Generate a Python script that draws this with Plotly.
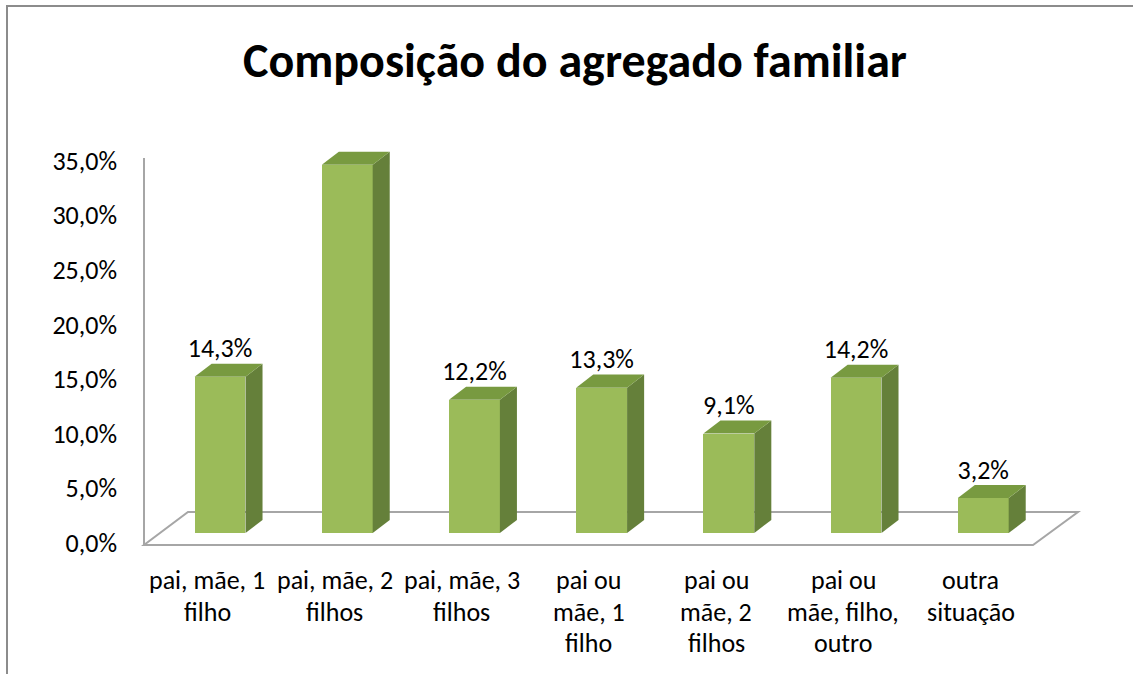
import plotly.graph_objects as go

# dados do gráfico
categorias = ["pai, mãe, 1 filho", "pai, mãe, 2 filhos", "pai, mãe, 3 filhos",
              "pai ou mãe, 1 filho", "pai ou mãe, 2 filhos", "pai ou mãe, filho, outro",
              "outra situação"]
rotulos = [["pai, mãe, 1", "filho"], ["pai, mãe, 2", "filhos"], ["pai, mãe, 3", "filhos"],
           ["pai ou", "mãe, 1", "filho"], ["pai ou", "mãe, 2", "filhos"],
           ["pai ou", "mãe, filho,", "outro"], ["outra", "situação"]]
valores = [14.3, 33.7, 12.2, 13.3, 9.1, 14.2, 3.2]
ticks_y = [0, 5, 10, 15, 20, 25, 30, 35]

FONT = "Carlito, Calibri, Lato, sans-serif"
FRENTE = "#9bbb59"
LADO = "#65803a"
TOPO = "#789a40"

W, H = 1133, 674
ML, MR, MT, MB = 145, 55, 150, 114
PW, PH = W - ML - MR, H - MT - MB

def px_x(p):
    return (p - ML) / PW

def px_y(p):
    return (H - MB - p) / PH

larg = 0.40      # largura da face frontal
dx = 0.134       # profundidade em x
dy = 1.19        # profundidade em y (%)

xs = list(range(len(valores)))
fig = go.Figure()

# faces laterais e superiores (efeito 3D)
for i, v in zip(xs, valores):
    xr = i + larg / 2
    xl = i - larg / 2
    fig.add_trace(go.Scatter(
        x=[xr, xr + dx, xr + dx, xr, xr], y=[0, dy, v + dy, v, 0],
        mode="lines", fill="toself", fillcolor=LADO, line=dict(width=0),
        hoverinfo="skip", showlegend=False))
    fig.add_trace(go.Scatter(
        x=[xl, xr, xr + dx, xl + dx, xl], y=[v, v, v + dy, v + dy, v],
        mode="lines", fill="toself", fillcolor=TOPO, line=dict(width=0),
        hoverinfo="skip", showlegend=False))

fig.add_trace(go.Bar(x=xs, y=valores, width=larg, marker=dict(color=FRENTE, line=dict(width=0)),
                     showlegend=False))

# rótulos de dados
fig.add_trace(go.Scatter(
    x=xs, y=[v + dy for v in valores], mode="text",
    text=[f"{v:.1f}%".replace(".", ",") for v in valores],
    textposition="top center", textfont=dict(family=FONT, size=26, color="#000000"),
    showlegend=False, hoverinfo="skip"))

# eixo auxiliar só para os rótulos do eixo y
fig.add_trace(go.Scatter(x=[0], y=[0], yaxis="y2", mode="markers",
                         marker=dict(opacity=0), showlegend=False, hoverinfo="skip"))

y0_barras = px_y(533)
y0_eixo = px_y(543)
span = PH / 10.93  # pontos percentuais visíveis

annotations = []
for i, linhas in zip(xs, rotulos):
    for k, t in enumerate(linhas):
        annotations.append(dict(
            x=i - 0.1, xref="x", y=px_y(580 + 31.5 * k), yref="paper",
            text=t, showarrow=False, xanchor="center", yanchor="middle",
            font=dict(family=FONT, size=26, color="#000000")))

linha = dict(color="#a6a6a6", width=2)
shapes = [
    # moldura do gráfico (lados direito e inferior ficam fora da imagem)
    dict(type="path", xref="paper", yref="paper",
         path=f"M {px_x(7)},{px_y(700)} L {px_x(7)},{px_y(6)} L {px_x(1200)},{px_y(6)}",
         line=dict(color="#8c8c8c", width=2)),
    # eixo vertical
    dict(type="line", xref="paper", yref="paper", x0=px_x(144), x1=px_x(144),
         y0=px_y(545), y1=px_y(158), line=linha),
    # chão
    dict(type="path", xref="paper", yref="paper",
         path=f"M {px_x(144)},{px_y(545)} L {px_x(1033)},{px_y(545)} "
              f"L {px_x(1078)},{px_y(512)} L {px_x(188)},{px_y(512)} Z",
         line=linha, layer="below"),
]

fig.update_layout(
    width=W, height=H,
    margin=dict(l=ML, r=MR, t=MT, b=MB),
    paper_bgcolor="white", plot_bgcolor="rgba(0,0,0,0)",
    title=dict(text="<b>Composição do agregado familiar</b>", x=575 / W, xanchor="center",
               y=1 - 60 / H, yanchor="middle",
               font=dict(family=FONT, size=48, color="#000000")),
    xaxis=dict(range=[-0.59, 6.745], showgrid=False, zeroline=False, showticklabels=False,
               showline=False, fixedrange=True),
    yaxis=dict(range=[-y0_barras * span, (1 - y0_barras) * span], showgrid=False,
               zeroline=False, showticklabels=False, showline=False),
    yaxis2=dict(overlaying="y", side="left", range=[-y0_eixo * span, (1 - y0_eixo) * span],
                tickvals=ticks_y, ticktext=[f"{t:.1f}%".replace(".", ",") for t in ticks_y],
                showgrid=False, zeroline=False, showline=False, ticks="",
                ticklabelstandoff=27,
                tickfont=dict(family=FONT, size=26, color="#000000")),
    annotations=annotations,
    shapes=shapes,
    bargap=0,
)

fig.write_html("out.html", config={"displayModeBar": False},
               post_script="document.body.style.margin='0';document.body.style.overflow='hidden';")
